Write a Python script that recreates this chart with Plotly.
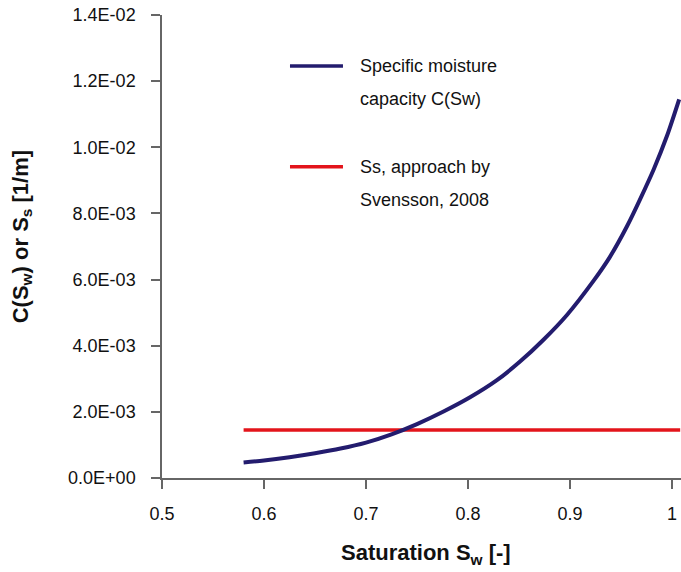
import plotly.graph_objects as go

# Data
sat_c = [0.58, 0.60, 0.625, 0.65, 0.675, 0.70, 0.725, 0.75, 0.776, 0.802, 0.828,
         0.851, 0.874, 0.897, 0.923, 0.939, 0.956, 0.969, 0.982, 0.995, 1.007]
cap_c = [4.7e-4, 5.3e-4, 6.3e-4, 7.5e-4, 8.9e-4, 1.07e-3, 1.32e-3, 1.63e-3, 2.01e-3,
         2.44e-3, 2.95e-3, 3.52e-3, 4.18e-3, 4.93e-3, 5.96e-3, 6.68e-3, 7.62e-3,
         8.45e-3, 9.33e-3, 1.034e-2, 1.145e-2]
sat_ss = [0.58, 1.008]
ss_val = [1.45e-3, 1.45e-3]

x_ticks = [0.5, 0.6, 0.7, 0.8, 0.9, 1.0]
x_labels = ["0.5", "0.6", "0.7", "0.8", "0.9", "1"]
y_ticks = [0, 0.002, 0.004, 0.006, 0.008, 0.010, 0.012, 0.014]
y_labels = ["0.0E+00", "2.0E-03", "4.0E-03", "6.0E-03", "8.0E-03", "1.0E-02", "1.2E-02", "1.4E-02"]

legend_lines = [["Specific moisture", "capacity C(Sw)"], ["Ss, approach by", "Svensson, 2008"]]

BLUE = "#231C6E"
RED = "#E3141B"
FONT = "Liberation Sans, Arial, sans-serif"

fig = go.Figure()
fig.add_trace(go.Scatter(x=sat_ss, y=ss_val, mode="lines", line=dict(color=RED, width=3.5),
                         name=" ".join(legend_lines[1]), showlegend=False))
fig.add_trace(go.Scatter(x=sat_c, y=cap_c, mode="lines", line=dict(color=BLUE, width=4, shape="spline", smoothing=0.8),
                         name=" ".join(legend_lines[0]), showlegend=False))

# manual legend (paper coordinates)
leg = [(BLUE, 0.8898, legend_lines[0]), (RED, 0.672, legend_lines[1])]
annotations = []
shapes = []
for col, ypos, lines in leg:
    shapes.append(dict(type="line", xref="paper", yref="paper", x0=0.2466, x1=0.3487,
                       y0=ypos, y1=ypos, line=dict(color=col, width=3.5)))
    for i, t in enumerate(lines):
        annotations.append(dict(text=t, xref="paper", yref="paper", x=0.3776, y=ypos - i * 0.0722,
                                xanchor="left", yanchor="middle", showarrow=False,
                                font=dict(family=FONT, size=18, color="#111")))

annotations.append(dict(text="<b>Saturation S<sub>w</sub> [-]</b>", xref="paper", yref="paper",
                        x=0.5087, y=-0.165, xanchor="center", yanchor="middle", showarrow=False,
                        font=dict(family=FONT, size=22, color="#111")))
annotations.append(dict(text="<b>C(S<sub>w</sub>) or S<sub>s</sub> [1/m]</b>", xref="paper", yref="paper",
                        x=-0.2697, y=0.52, xanchor="center", yanchor="middle", showarrow=False,
                        textangle=-90, font=dict(family=FONT, size=22, color="#111")))

fig.update_layout(
    width=681, height=572,
    margin=dict(l=162, r=0, t=15, b=94, autoexpand=False),
    paper_bgcolor="white", plot_bgcolor="white",
    font=dict(family=FONT, size=18, color="#111"),
    showlegend=False,
    annotations=annotations,
    shapes=shapes,
)
fig.update_xaxes(range=[0.5, 1.0088], tickvals=x_ticks, ticktext=x_labels, automargin=False,
                 showgrid=False, zeroline=False, showline=True, linecolor="#666", linewidth=1.5,
                 ticks="outside", ticklen=9, tickwidth=1.5, tickcolor="#666", ticklabeloverflow="allow",
                 ticklabelstandoff=10, tickfont=dict(family=FONT, size=18, color="#111"))
fig.update_yaxes(range=[0, 0.014], tickvals=y_ticks, ticktext=y_labels, automargin=False,
                 showgrid=False, zeroline=False, showline=True, linecolor="#666", linewidth=1.5,
                 ticks="outside", ticklen=9, tickwidth=1.5, tickcolor="#666", ticklabeloverflow="allow",
                 ticklabelstandoff=12, tickfont=dict(family=FONT, size=18, color="#111"))

# remove the default page margin so the figure sits at the window's top-left corner
fig.write_html("out.html", config={"displayModeBar": False},
               post_script="document.body.style.margin='0';")
